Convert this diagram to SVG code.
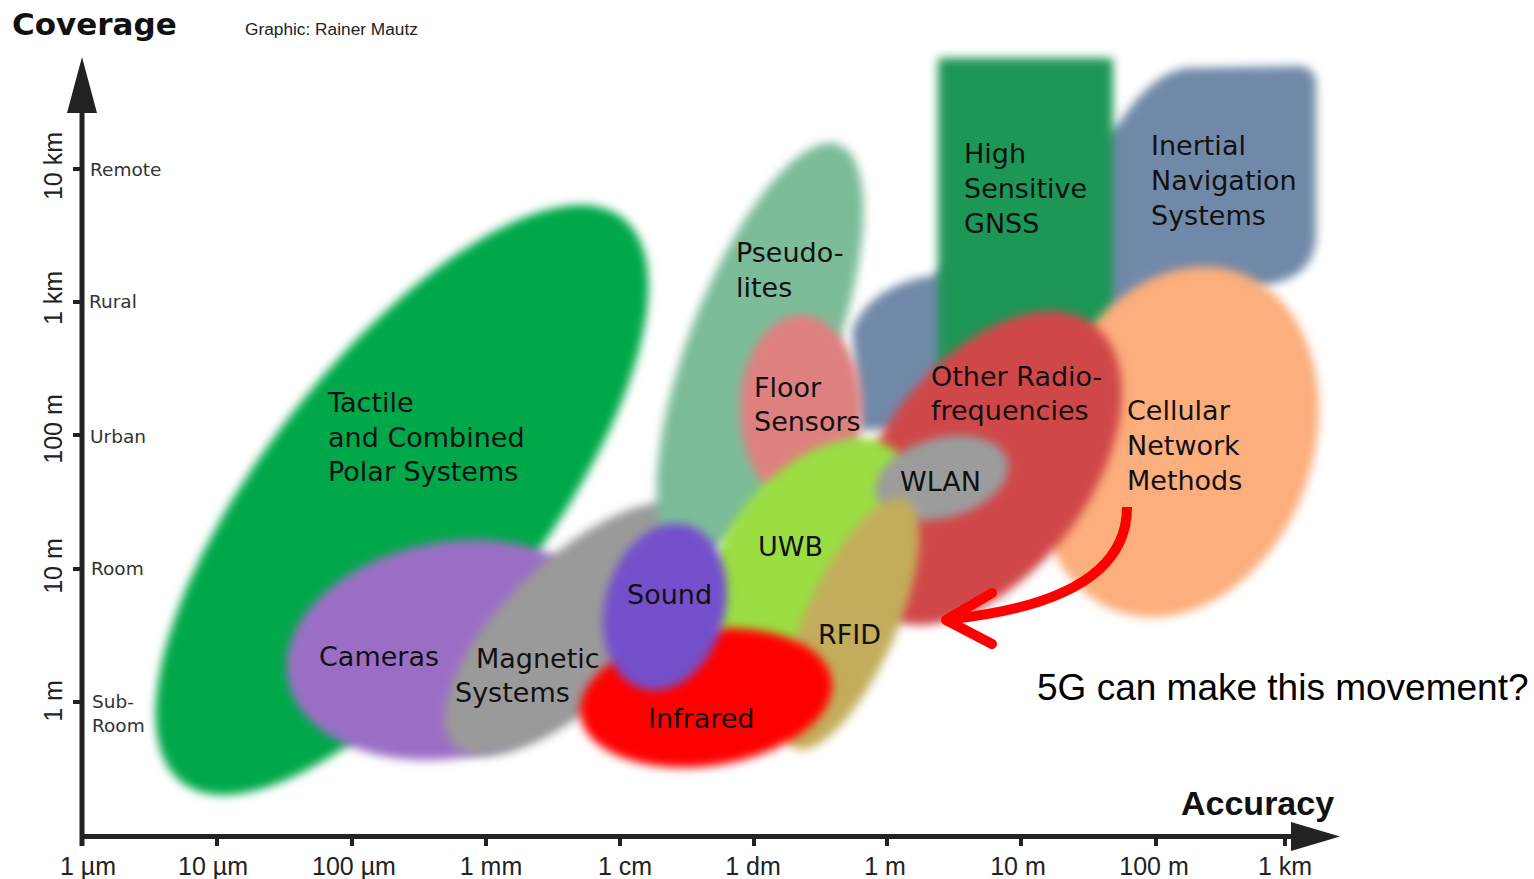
<svg xmlns="http://www.w3.org/2000/svg" width="1534" height="879" viewBox="0 0 1534 879">
<style>
.lbl{font-family:"DejaVu Sans","Verdana",sans-serif;font-size:27px;fill:#111}
.side{font-family:"DejaVu Sans","Verdana",sans-serif;font-size:18.5px;fill:#333}
.unit{font-family:"Liberation Sans","Arial",sans-serif;font-size:25px;fill:#222}
.xu{font-family:"Liberation Sans","Arial",sans-serif;font-size:25px;fill:#222;text-anchor:middle}
.axis{stroke:#222;stroke-width:5;fill:none}
.tick{stroke:#222;stroke-width:4}
.blob{filter:url(#soft)}
</style>
<defs>
<filter id="soft" x="-20%" y="-20%" width="140%" height="140%"><feGaussianBlur stdDeviation="5"/></filter>
</defs>
<rect width="1534" height="879" fill="#fff"/>

<g id="node-tactile">
<ellipse class="blob" cx="402" cy="500" rx="358" ry="140" transform="rotate(-52 402 500)" fill="#04a84a"/>
<text class="lbl" x="328" y="412">Tactile</text>
<text class="lbl" x="328" y="447">and Combined</text>
<text class="lbl" x="328" y="481">Polar Systems</text>
</g>
<g id="node-cameras">
<ellipse class="blob" cx="450" cy="650" rx="165" ry="108" transform="rotate(-10 450 650)" fill="#9b6ec6"/>
<text class="lbl" x="319" y="666">Cameras</text>
</g>
<g id="node-magnetic">
<ellipse class="blob" cx="575" cy="629" rx="168" ry="70" transform="rotate(-44 575 629)" fill="#9a9a9a"/>
<text class="lbl" x="476" y="668">Magnetic</text>
<text class="lbl" x="455" y="702">Systems</text>
</g>
<g id="node-inertial">
<path class="blob" d="M852,330 Q870,285 935,275 L1120,122 Q1150,75 1185,68 L1300,66 Q1316,68 1316,85 L1316,240 Q1312,275 1275,283 L1100,330 L950,430 L860,430 Z" fill="#7189a9"/>
<text class="lbl" x="1151" y="155">Inertial</text>
<text class="lbl" x="1151" y="190">Navigation</text>
<text class="lbl" x="1151" y="225">Systems</text>
</g>
<g id="node-gnss">
<rect class="blob" x="938" y="58" width="175" height="330" rx="3" fill="#1c9757"/>
<text class="lbl" x="964" y="163">High</text>
<text class="lbl" x="964" y="198">Sensitive</text>
<text class="lbl" x="964" y="233">GNSS</text>
</g>
<g id="node-pseudolites">
<ellipse class="blob" cx="760" cy="350" rx="220" ry="72" transform="rotate(-69 760 350)" fill="#7cbc98"/>
<text class="lbl" x="736" y="262">Pseudo-</text>
<text class="lbl" x="736" y="297">lites</text>
</g>
<g id="node-floor">
<ellipse class="blob" cx="801" cy="409" rx="61" ry="94" fill="#df8080"/>
<text class="lbl" x="754" y="397">Floor</text>
<text class="lbl" x="754" y="431">Sensors</text>
</g>
<g id="node-cellular">
<ellipse class="blob" cx="1178" cy="442" rx="135" ry="180" transform="rotate(20 1178 442)" fill="#fcae7c"/>
<text class="lbl" x="1127" y="420">Cellular</text>
<text class="lbl" x="1127" y="455">Network</text>
<text class="lbl" x="1127" y="490">Methods</text>
</g>
<g id="node-radio">
<ellipse class="blob" cx="985" cy="468" rx="180" ry="105" transform="rotate(-53 985 468)" fill="#d0474a"/>
<text class="lbl" x="931" y="386">Other Radio-</text>
<text class="lbl" x="931" y="420">frequencies</text>
</g>
<g id="node-uwb">
<ellipse class="blob" cx="810" cy="545" rx="127" ry="75" transform="rotate(-48 810 545)" fill="#9ade43"/>
<text class="lbl" x="758" y="556">UWB</text>
</g>
<g id="node-wlan">
<ellipse class="blob" cx="942" cy="478" rx="68" ry="40" transform="rotate(-15 942 478)" fill="#9c9c9c"/>
<text class="lbl" x="900" y="491">WLAN</text>
</g>
<g id="node-rfid">
<ellipse class="blob" cx="850" cy="624" rx="136" ry="46" transform="rotate(-66 850 624)" fill="#c3ad5c"/>
<text class="lbl" x="818" y="644">RFID</text>
</g>
<g id="node-infrared">
<ellipse class="blob" cx="706" cy="698" rx="127" ry="68" transform="rotate(-8 706 698)" fill="#ff0000"/>
<text class="lbl" x="648" y="728">Infrared</text>
</g>
<g id="node-sound">
<ellipse class="blob" cx="665" cy="607" rx="60" ry="85" transform="rotate(15 665 607)" fill="#7350cc"/>
<text class="lbl" x="627" y="604">Sound</text>
</g>

<g id="axes">
<line class="axis" x1="82" y1="108" x2="82" y2="846"/>
<polygon points="82,57 67,113 97,113" fill="#222"/>
<line class="axis" x1="80" y1="836.5" x2="1296" y2="836.5" stroke-width="6"/>
<polygon points="1340,836.5 1291,822 1291,851" fill="#222"/>
<g class="tick">
<line x1="73" y1="169" x2="82" y2="169"/>
<line x1="73" y1="302" x2="82" y2="302"/>
<line x1="73" y1="435" x2="82" y2="435"/>
<line x1="73" y1="569" x2="82" y2="569"/>
<line x1="73" y1="702" x2="82" y2="702"/>
<line x1="217" y1="836" x2="217" y2="846"/>
<line x1="352" y1="836" x2="352" y2="846"/>
<line x1="486" y1="836" x2="486" y2="846"/>
<line x1="620" y1="836" x2="620" y2="846"/>
<line x1="754" y1="836" x2="754" y2="846"/>
<line x1="887" y1="836" x2="887" y2="846"/>
<line x1="1021" y1="836" x2="1021" y2="846"/>
<line x1="1156" y1="836" x2="1156" y2="846"/>
<line x1="1285" y1="836" x2="1285" y2="846"/>
</g>
<text class="side" x="90" y="176">Remote</text>
<text class="side" x="89" y="308">Rural</text>
<text class="side" x="90" y="443">Urban</text>
<text class="side" x="91" y="575">Room</text>
<text class="side" x="92" y="708">Sub-</text>
<text class="side" x="92" y="732">Room</text>
<text class="unit" text-anchor="middle" transform="translate(62 166) rotate(-90)">10 km</text>
<text class="unit" text-anchor="middle" transform="translate(62 298) rotate(-90)">1 km</text>
<text class="unit" text-anchor="middle" transform="translate(62 429) rotate(-90)">100 m</text>
<text class="unit" text-anchor="middle" transform="translate(62 566) rotate(-90)">10 m</text>
<text class="unit" text-anchor="middle" transform="translate(62 701) rotate(-90)">1 m</text>
<text class="xu" x="88" y="875">1 µm</text>
<text class="xu" x="213" y="875">10 µm</text>
<text class="xu" x="354" y="875">100 µm</text>
<text class="xu" x="491" y="875">1 mm</text>
<text class="xu" x="625" y="875">1 cm</text>
<text class="xu" x="753" y="875">1 dm</text>
<text class="xu" x="885" y="875">1 m</text>
<text class="xu" x="1018" y="875">10 m</text>
<text class="xu" x="1154" y="875">100 m</text>
<text class="xu" x="1285" y="875">1 km</text>
<text x="12" y="35" font-family="DejaVu Sans, Verdana, sans-serif" font-weight="bold" font-size="31" fill="#111">Coverage</text>
<text x="1181" y="815" font-family="Liberation Sans, Arial, sans-serif" font-weight="bold" font-size="34" fill="#111">Accuracy</text>
</g>

<text x="245" y="35" font-family="Liberation Sans, Arial, sans-serif" font-size="17.3" fill="#222">Graphic: Rainer Mautz</text>

<g id="connectors">
<path d="M1127,507 C1127,572 1062,607 952,619" fill="none" stroke="#ff0000" stroke-width="10"/>
<path d="M992,593 L946,620 L992,644" fill="none" stroke="#ff0000" stroke-width="10" stroke-linecap="round" stroke-linejoin="round"/>
</g>
<text x="1037" y="700" font-family="Liberation Sans, Arial, sans-serif" font-size="37" fill="#000">5G can make this movement?</text>
</svg>
